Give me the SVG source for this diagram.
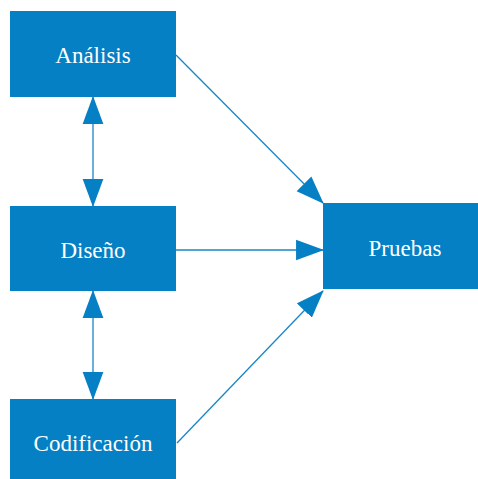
<svg xmlns="http://www.w3.org/2000/svg" width="478" height="479" viewBox="0 0 478 479">
  <style>
    .box { fill: #0580c4; }
    .label { fill: #ffffff; font-family: "Liberation Serif", "Times New Roman", serif; font-size: 23px; text-anchor: middle; }
    .edge { stroke: #1a86c6; stroke-width: 1.3; fill: none; }
  </style>
  <defs>
    <marker id="head" markerUnits="userSpaceOnUse" markerWidth="28" markerHeight="22" viewBox="0 0 27 20" refX="26" refY="10" orient="auto-start-reverse">
      <path d="M0,0 L27,10 L0,20 Z" fill="#0580c4"/>
    </marker>
  </defs>

  <rect width="478" height="479" fill="#ffffff"/>

  <g id="connectors">
    <line class="edge" x1="93" y1="97" x2="93" y2="206" marker-start="url(#head)" marker-end="url(#head)"/>
    <line class="edge" x1="93" y1="291" x2="93" y2="399" marker-start="url(#head)" marker-end="url(#head)"/>
    <line class="edge" x1="176" y1="55" x2="323" y2="203" marker-end="url(#head)"/>
    <line class="edge" x1="176" y1="250" x2="323" y2="250" marker-end="url(#head)"/>
    <line class="edge" x1="177" y1="443" x2="323" y2="291" marker-end="url(#head)"/>
  </g>

  <g id="analisis">
    <rect class="box" x="10" y="11" width="166" height="86"/>
    <text class="label" x="93" y="63">Análisis</text>
  </g>
  <g id="diseno">
    <rect class="box" x="10" y="206" width="166" height="85"/>
    <text class="label" x="93" y="258">Diseño</text>
  </g>
  <g id="codificacion">
    <rect class="box" x="10" y="399" width="166" height="80"/>
    <text class="label" x="93" y="451">Codificación</text>
  </g>
  <g id="pruebas">
    <rect class="box" x="323" y="203" width="155" height="86"/>
    <text class="label" x="405" y="256">Pruebas</text>
  </g>
</svg>
